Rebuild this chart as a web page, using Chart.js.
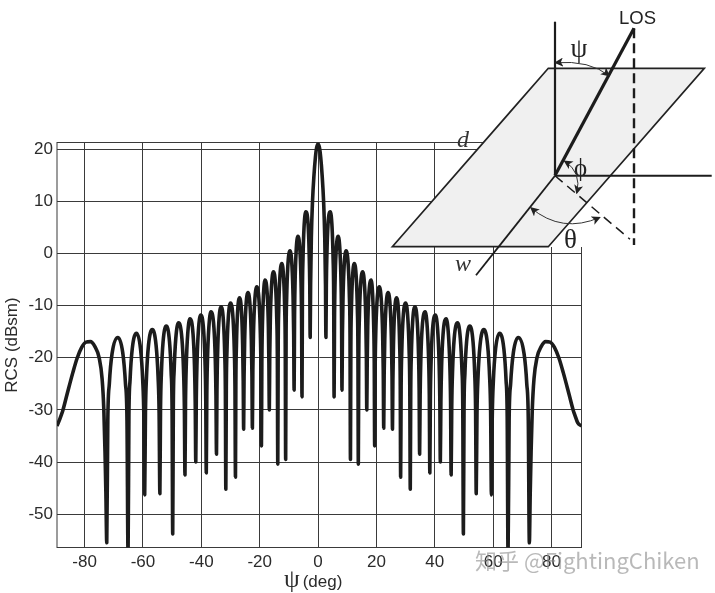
<!DOCTYPE html>
<html>
<head>
<meta charset="utf-8">
<style>
  html, body { margin: 0; padding: 0; background: #fff; }
  #wrap { position: relative; width: 715px; height: 593px; overflow: hidden; }
  #rcsChart { position: absolute; left: 0; top: 0; }
  #overlay { position: absolute; left: 0; top: 0; }
</style>
<script src="https://cdn.jsdelivr.net/npm/chart.js@4"></script>
</head>
<body>
<div id="wrap">
  <canvas id="rcsChart" width="715" height="593"></canvas>
  <svg id="overlay" width="715" height="593" viewBox="0 0 715 593">
    <defs>
      <marker id="arrowHead" viewBox="0 0 10 10" refX="9" refY="5" markerWidth="9" markerHeight="9" markerUnits="userSpaceOnUse" orient="auto-start-reverse">
        <path d="M0 0 L10 5 L0 10 L2.5 5 z" fill="#222"/>
      </marker>
    </defs>
    <!-- the photographed figure blanks the grid to the right of the plate -->
    <polygon points="548,247 705,68 715,68 715,247" fill="#fff"/>
    <polygon points="392.3,246.7 548.3,68.3 704.3,68.3 548.3,246.7" fill="#f0f0f0" stroke="#222" stroke-width="1.7"/>
    <line x1="555" y1="21.7" x2="555" y2="175.5" stroke="#1c1c1c" stroke-width="2.2"/>
    <line x1="555" y1="175.7" x2="711.7" y2="175.7" stroke="#1c1c1c" stroke-width="2"/>
    <line x1="555" y1="175.7" x2="476" y2="275.3" stroke="#1c1c1c" stroke-width="1.8"/>
    <line x1="634" y1="28.3" x2="555" y2="175.5" stroke="#1c1c1c" stroke-width="3.2"/>
    <line x1="634" y1="28.3" x2="634" y2="245" stroke="#1c1c1c" stroke-width="2.4" stroke-dasharray="10 5"/>
    <line x1="555" y1="175.7" x2="630" y2="239.3" stroke="#1c1c1c" stroke-width="1.5" stroke-dasharray="10 6"/>
    <path d="M555 62.7 Q590 60 609.3 76" fill="none" stroke="#333" stroke-width="1" marker-start="url(#arrowHead)" marker-end="url(#arrowHead)"/>
    <path d="M530.7 207.7 Q562 234 600 217.3" fill="none" stroke="#333" stroke-width="1" marker-start="url(#arrowHead)" marker-end="url(#arrowHead)"/>
    <path d="M564.3 161 Q582 172 576.7 193.3" fill="none" stroke="#333" stroke-width="1" marker-start="url(#arrowHead)" marker-end="url(#arrowHead)"/>
    <text x="619" y="23.5" font-family="Liberation Sans" font-size="18.5" fill="#222">LOS</text>
    <text x="570.5" y="57" font-family="Liberation Serif" font-size="27" fill="#222">ψ</text>
    <text x="574" y="176" font-family="Liberation Serif" font-size="25" fill="#222">ϕ</text>
    <text x="564" y="248" font-family="Liberation Serif" font-size="27" fill="#222">θ</text>
    <text x="457" y="147" font-family="Liberation Serif" font-style="italic" font-size="24" fill="#333">d</text>
    <text x="455" y="271" font-family="Liberation Serif" font-style="italic" font-size="24" fill="#333">w</text>
    <text x="284" y="587" fill="#2b2b2b"><tspan font-family="Liberation Serif" font-size="25">ψ</tspan><tspan dx="3" font-family="Liberation Sans" font-size="17">(deg)</tspan></text>
    <text x="475" y="569" font-family="Noto Sans CJK SC" font-size="22" fill="#8a8a8a" fill-opacity="0.6">知乎 @FightingChiken</text>
  </svg>
</div>
<script>
const xTicks = [-80, -60, -40, -20, 0, 20, 40, 60, 80];
const yTicks = [20, 10, 0, -10, -20, -30, -40, -50];

// one row per lobe
const psiLeft = [
  -89.5, -89, -88, -87.4, -86, -84, -82.5, -81, -79.5, -78, -76.5, -75, -74, -73.4, -73, -72.7,
  -72.4, -72.04, -71.52, -70.58, -68.6, -66.93, -65.98, -65.47,
  -65.1, -64.81, -64.42, -63.67, -62.2, -60.83, -60.08, -59.69,
  -59.4, -59.14, -58.78, -58.1, -56.8, -55.5, -54.82, -54.46,
  -54.2, -53.98, -53.67, -53.1, -52, -50.9, -50.33, -50.02,
  -49.8, -49.59, -49.3, -48.75, -47.8, -46.65, -46.1, -45.81,
  -45.6, -45.41, -45.16, -44.67, -43.9, -42.83, -42.34, -42.09,
  -41.9, -41.72, -41.47, -41, -40.2, -39.2, -38.73, -38.48,
  -38.3, -38.12, -37.88, -37.42, -36.7, -35.68, -35.22, -34.98,
  -34.8, -34.64, -34.42, -34, -33.2, -32.4, -31.98, -31.76,
  -31.6, -31.43, -31.2, -30.77, -30, -29.13, -28.7, -28.47,
  -28.3, -28.16, -27.96, -27.6, -26.9, -26.2, -25.84, -25.64,
  -25.5, -25.35, -25.14, -24.75, -24, -23.25, -22.86, -22.65,
  -22.5, -22.34, -22.13, -21.72, -21, -20.18, -19.77, -19.56,
  -19.4, -19.26, -19.08, -18.72, -18.2, -17.38, -17.02, -16.84,
  -16.7, -16.55, -16.35, -15.97, -15.3, -14.53, -14.15, -13.95,
  -13.8, -13.66, -13.48, -13.12, -12.4, -11.78, -11.42, -11.24,
  -11.1, -10.95, -10.75, -10.37, -9.6, -8.93, -8.55, -8.35,
  -8.2, -8.06, -7.88, -7.52, -6.9, -6.18, -5.82, -5.64,
  -5.5, -5.36, -5.16, -4.8, -4.2, -3.4, -3.04, -2.84
];
const rcsLeft = [
  -33.1, -32.5, -31, -30, -27, -22.8, -20, -18, -17, -16.9, -17.8, -20, -24, -30, -38, -46,
  -55.5, -32, -25, -19.2, -16.1, -19, -25, -32,
  -58, -31.3, -24.3, -18.3, -15.3, -18.3, -24.3, -31.3,
  -46.3, -30.6, -23.6, -17.6, -14.6, -17.6, -23.6, -30.6,
  -46.1, -29.9, -22.9, -16.9, -13.9, -16.9, -22.9, -29.9,
  -53.8, -29.3, -22.3, -16.3, -13.3, -16.3, -22.3, -29.3,
  -42.5, -28.5, -21.5, -15.5, -12.5, -15.5, -21.5, -28.5,
  -40, -27.8, -20.8, -14.8, -11.8, -14.8, -20.8, -27.8,
  -42.1, -27.2, -20.2, -14.2, -11.2, -14.2, -20.2, -27.2,
  -38.5, -26.2, -19.2, -13.2, -10.2, -13.2, -19.2, -26.2,
  -45.2, -25.5, -18.5, -12.5, -9.5, -12.5, -18.5, -25.5,
  -42.9, -24.5, -17.5, -11.5, -8.5, -11.5, -17.5, -24.5,
  -33.7, -23.5, -16.5, -10.5, -7.5, -10.5, -16.5, -23.5,
  -33.5, -22.4, -15.4, -9.4, -6.4, -9.4, -15.4, -22.4,
  -36.9, -21.1, -14.1, -8.1, -5.1, -8.1, -14.1, -21.1,
  -30, -19.5, -12.5, -6.5, -3.5, -6.5, -12.5, -19.5,
  -40.4, -17.9, -10.9, -4.9, -1.9, -4.9, -10.9, -17.9,
  -39.5, -15.5, -8.5, -2.5, 0.5, -2.5, -8.5, -15.5,
  -26.2, -12.7, -5.7, 0.3, 3.3, 0.3, -5.7, -12.7,
  -27.5, -8, -1, 5, 8, 5.5, 0, -6
];
const psiMain = [-2.7, -2.55, -2.3, -1.9, -1.4, -0.9, -0.5, 0, 0.5, 0.9, 1.4, 1.9, 2.3, 2.55, 2.7];
const rcsMain = [-16.1, -6, 3, 10, 15, 18.5, 20.3, 21, 20.3, 18.5, 15, 10, 3, -6, -16.1];
const psiRight = [
  2.84, 3.04, 3.4, 4.2, 4.8, 5.16, 5.36,
  5.5, 5.64, 5.82, 6.18, 6.9, 7.52, 7.88, 8.06,
  8.2, 8.35, 8.55, 8.93, 9.6, 10.37, 10.75, 10.95,
  11.1, 11.24, 11.42, 11.78, 12.4, 13.12, 13.48, 13.66,
  13.8, 13.95, 14.15, 14.53, 15.3, 15.97, 16.35, 16.55,
  16.7, 16.84, 17.02, 17.38, 18.2, 18.72, 19.08, 19.26,
  19.4, 19.56, 19.77, 20.18, 21, 21.72, 22.13, 22.34,
  22.5, 22.65, 22.86, 23.25, 24, 24.75, 25.14, 25.35,
  25.5, 25.64, 25.84, 26.2, 26.9, 27.6, 27.96, 28.16,
  28.3, 28.47, 28.7, 29.13, 30, 30.77, 31.2, 31.43,
  31.6, 31.76, 31.98, 32.4, 33.2, 34, 34.42, 34.64,
  34.8, 34.98, 35.22, 35.68, 36.7, 37.42, 37.88, 38.12,
  38.3, 38.48, 38.73, 39.2, 40.2, 41, 41.47, 41.72,
  41.9, 42.09, 42.34, 42.83, 43.9, 44.67, 45.16, 45.41,
  45.6, 45.81, 46.1, 46.65, 47.8, 48.75, 49.3, 49.59,
  49.8, 50.02, 50.33, 50.9, 52, 53.1, 53.67, 53.98,
  54.2, 54.46, 54.82, 55.5, 56.8, 58.1, 58.78, 59.14,
  59.4, 59.69, 60.08, 60.83, 62.2, 63.67, 64.42, 64.81,
  65.1, 65.47, 65.98, 66.93, 68.6, 70.58, 71.52, 72.04,
  72.4, 72.7, 73, 73.4, 74, 75, 76.5, 78, 79.5, 81, 82.5, 84, 86, 87.4, 88, 89, 90.3
];
const rcsRight = [
  -6, 0, 5.5, 8, 5, -1, -8,
  -27.5, -12.7, -5.7, 0.3, 3.3, 0.3, -5.7, -12.7,
  -26.2, -15.5, -8.5, -2.5, 0.5, -2.5, -8.5, -15.5,
  -39.5, -17.9, -10.9, -4.9, -1.9, -4.9, -10.9, -17.9,
  -40.4, -19.5, -12.5, -6.5, -3.5, -6.5, -12.5, -19.5,
  -30, -21.1, -14.1, -8.1, -5.1, -8.1, -14.1, -21.1,
  -36.9, -22.4, -15.4, -9.4, -6.4, -9.4, -15.4, -22.4,
  -33.5, -23.5, -16.5, -10.5, -7.5, -10.5, -16.5, -23.5,
  -33.7, -24.5, -17.5, -11.5, -8.5, -11.5, -17.5, -24.5,
  -42.9, -25.5, -18.5, -12.5, -9.5, -12.5, -18.5, -25.5,
  -45.2, -26.2, -19.2, -13.2, -10.2, -13.2, -19.2, -26.2,
  -38.5, -27.2, -20.2, -14.2, -11.2, -14.2, -20.2, -27.2,
  -42.1, -27.8, -20.8, -14.8, -11.8, -14.8, -20.8, -27.8,
  -40, -28.5, -21.5, -15.5, -12.5, -15.5, -21.5, -28.5,
  -42.5, -29.3, -22.3, -16.3, -13.3, -16.3, -22.3, -29.3,
  -53.8, -29.9, -22.9, -16.9, -13.9, -16.9, -22.9, -29.9,
  -46.1, -30.6, -23.6, -17.6, -14.6, -17.6, -23.6, -30.6,
  -46.3, -31.3, -24.3, -18.3, -15.3, -18.3, -24.3, -31.3,
  -58, -32, -25, -19, -16.1, -19.2, -25, -32,
  -55.5, -46, -38, -30, -24, -20, -17.8, -16.9, -17, -18, -20, -22.8, -27, -30, -31, -32.5, -33.1
];

const psi = psiLeft.concat(psiMain, psiRight);
const rcs = rcsLeft.concat(rcsMain, rcsRight);

const frame = {
  id: 'frame',
  beforeDatasetsDraw(chart) {
    const a = chart.chartArea;
    const c = chart.ctx;
    c.save();
    c.strokeStyle = '#3a3a3a';
    c.lineWidth = 1;
    c.strokeRect(a.left, a.top, a.right - a.left, a.bottom - a.top);
    c.restore();
  }
};

new Chart(document.getElementById('rcsChart').getContext('2d'), {
  type: 'line',
  data: {
    datasets: [{
      label: 'RCS',
      data: psi.map((x, i) => ({ x: x, y: rcs[i] })),
      borderColor: '#1c1c1c',
      borderWidth: 3.6,
      borderJoinStyle: 'round',
      cubicInterpolationMode: 'monotone',
      pointRadius: 0,
      fill: false
    }]
  },
  plugins: [frame],
  options: {
    responsive: false,
    animation: false,
    layout: { padding: { top: 142.5, right: 133.5, left: 0, bottom: 0 } },
    plugins: { legend: { display: false }, tooltip: { enabled: false } },
    scales: {
      x: {
        type: 'linear',
        min: -89.45,
        max: 90.27,
        afterBuildTicks: s => { s.ticks = xTicks.map(v => ({ value: v })); },
        afterFit: s => { s.height = 45.5; },
        grid: { color: '#3a3a3a', lineWidth: 1, drawTicks: false },
        border: { display: false },
        ticks: {
          autoSkip: false, maxRotation: 0, padding: 5, color: '#2b2b2b',
          font: { family: 'Liberation Sans', size: 17 }
        }
      },
      y: {
        min: -56.4,
        max: 21.3,
        afterBuildTicks: s => { s.ticks = yTicks.map(v => ({ value: v })); },
        afterFit: s => { s.width = 57; },
        grid: { color: '#3a3a3a', lineWidth: 1, drawTicks: false },
        border: { display: false },
        title: {
          display: true, text: 'RCS (dBsm)', color: '#2b2b2b', padding: { top: 2, bottom: 0 },
          font: { family: 'Liberation Sans', size: 17 }
        },
        ticks: {
          autoSkip: false, padding: 4, color: '#2b2b2b',
          font: { family: 'Liberation Sans', size: 17 }
        }
      }
    }
  }
});
</script>
</body>
</html>
